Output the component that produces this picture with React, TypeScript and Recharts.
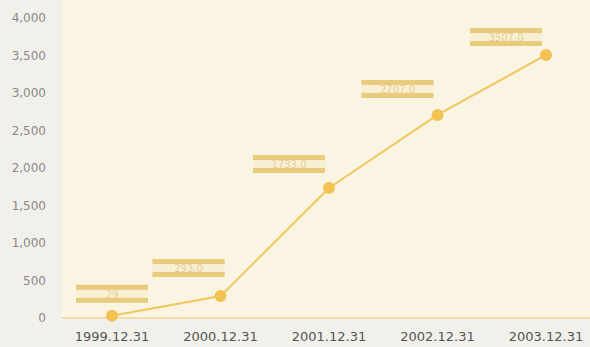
import React from 'react'
import { LineChart, Line, XAxis, YAxis, LabelList } from 'recharts'

const dates = ['1999.12.31', '2000.12.31', '2001.12.31', '2002.12.31', '2003.12.31']
const totals = [29, 293, 1733, 2707, 3507]
const totalLabels = ['29', '293.0', '1733.0', '2707.0', '3507.0']
const yTicks = [0, 500, 1000, 1500, 2000, 2500, 3000, 3500, 4000]

// label boxes sit up and to the left of each point (first one is centred)
const labelShiftX = [0, -32, -40, -40, -40]
const labelShiftY = [0, -6, -2, -4, 4]

const data = dates.map((d, i) => ({ date: d, total: totals[i], label: totalLabels[i] }))

const ValueTag = (props: any) => {
  const { x, y, index, value } = props
  const cx = x + labelShiftX[index]
  const top = y - 31 + labelShiftY[index]
  const w = 72
  return (
    <g>
      <rect x={cx - w / 2} y={top} width={w} height={18} fill="#f8efd4" />
      <rect x={cx - w / 2} y={top} width={w} height={5} fill="#e8cb7c" />
      <rect x={cx - w / 2} y={top + 13} width={w} height={5} fill="#e8cb7c" />
      <text x={cx} y={top + 13} textAnchor="middle" fontSize={10} fill="#e6cf98" fontFamily="DejaVu Sans">
        {value}
      </text>
    </g>
  )
}

export default function App() {
  return (
    <div style={{ position: 'absolute', left: 0, top: 0, width: 590, height: 347, background: '#f1f0eb' }}>
      <div style={{ position: 'absolute', left: 62, top: 0, width: 528, height: 318, background: '#faf4e3' }} />
      <div style={{ position: 'absolute', left: 0, top: 0 }}>
        <LineChart width={590} height={347} data={data} margin={{ top: 18, right: 0, bottom: 0, left: 0 }}>
          <XAxis
            dataKey="date"
            height={29}
            padding={{ left: 50, right: 44 }}
            axisLine={{ stroke: '#f1dcae', strokeWidth: 2 }}
            tickLine={false}
            tick={{ fill: '#555555', fontSize: 13, fontFamily: 'DejaVu Sans' }}
            tickMargin={8}
            interval={0}
          />
          <YAxis
            width={62}
            domain={[0, 4000]}
            ticks={yTicks}
            axisLine={false}
            tickLine={false}
            tick={{ fill: '#8a8a8a', fontSize: 12, fontFamily: 'DejaVu Sans' }}
            tickFormatter={(v: number) => v.toLocaleString('en-US')}
            tickMargin={10}
          />
          <Line
            type="linear"
            dataKey="total"
            stroke="#f2c65e"
            strokeWidth={2}
            dot={{ r: 6, fill: '#f3c253', stroke: 'none' }}
            isAnimationActive={false}
          >
            <LabelList dataKey="label" content={<ValueTag />} />
          </Line>
        </LineChart>
      </div>
    </div>
  )
}
